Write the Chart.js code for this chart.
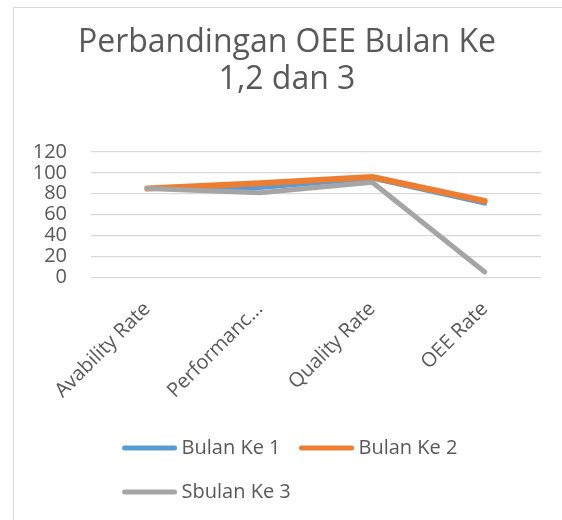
<!DOCTYPE html>
<html>
<head>
<meta charset="utf-8">
<script src="https://cdn.jsdelivr.net/npm/chart.js@4.4.1/dist/chart.umd.min.js"></script>
<style>
  html, body { margin: 0; padding: 0; background: #ffffff; }
  #frame { position: absolute; left: 13px; top: 7px; width: 560px; height: 520px;
           border-left: 1px solid #d9d9d9; border-top: 1px solid #d9d9d9; box-sizing: border-box; }
  #wrap { position: absolute; left: 1px; top: 1px; width: 549px; height: 512px; }
</style>
</head>
<body>
<div id="frame"><div id="wrap"><canvas id="c"></canvas></div></div>
<script>
const categories = ['Avability Rate', 'Performanc...', 'Quality Rate', 'OEE Rate'];
const bulan1 = [85, 86, 95, 71];
const bulan2 = [85, 90, 96, 73];
const bulan3 = [85, 81, 91, 5];
const seriesNames = ['Bulan Ke 1', 'Bulan Ke 2', 'Sbulan Ke 3'];
const yTicks = [0, 20, 40, 60, 80, 100, 120];

const FONT = '"Open Sans", Lato, sans-serif';
const TXT = '#595959';

const legendPlugin = {
  id: 'excelLegend',
  afterDraw(chart) {
    const ctx = chart.ctx;
    const ds = chart.data.datasets;
    ctx.save();
    ctx.font = '20px ' + FONT;
    ctx.textBaseline = 'middle';
    ctx.textAlign = 'left';
    const lineLen = 56, gapT = 4, gapItem = 18;
    const w = ds.map(d => lineLen + gapT + ctx.measureText(d.label).width);
    const rowW = w[0] + gapItem + w[1];
    const x0 = (chart.width - rowW) / 2;
    const rows = [chart.height - 73, chart.height - 29];
    const pos = [[x0, rows[0]], [x0 + w[0] + gapItem, rows[0]], [x0, rows[1]]];
    ds.forEach((d, i) => {
      const [x, y] = pos[i];
      ctx.strokeStyle = d.borderColor;
      ctx.lineWidth = 5;
      ctx.lineCap = 'round';
      ctx.beginPath();
      ctx.moveTo(x + 3, y);
      ctx.lineTo(x + lineLen - 3, y);
      ctx.stroke();
      ctx.fillStyle = TXT;
      ctx.fillText(d.label, x + lineLen + gapT, y);
    });
    ctx.restore();
  }
};

new Chart(document.getElementById('c'), {
  type: 'line',
  data: {
    labels: categories,
    datasets: [
      { label: seriesNames[0], data: bulan1, borderColor: '#5B9BD5', backgroundColor: '#5B9BD5', borderWidth: 5, order: 3 },
      { label: seriesNames[1], data: bulan2, borderColor: '#ED7D31', backgroundColor: '#ED7D31', borderWidth: 6, order: 2 },
      { label: seriesNames[2], data: bulan3, borderColor: '#A5A5A5', backgroundColor: '#A5A5A5', borderWidth: 5, order: 1 }
    ]
  },
  options: {
    responsive: true,
    maintainAspectRatio: false,
    animation: false,
    elements: {
      line: { tension: 0, borderCapStyle: 'round', borderJoinStyle: 'round', fill: false },
      point: { radius: 0, hoverRadius: 0 }
    },
    layout: { padding: { left: 18, right: 23, top: 0, bottom: 106 } },
    plugins: {
      legend: { display: false },
      tooltip: { enabled: false },
      title: {
        display: true,
        text: ['Perbandingan OEE Bulan Ke', '1,2 dan 3'],
        color: TXT,
        font: { family: FONT, size: 32, weight: 'normal', lineHeight: 1.14 },
        padding: { top: 16, bottom: 54 }
      }
    },
    scales: {
      x: {
        offset: true,
        grid: { display: false },
        border: { display: false },
        ticks: { color: TXT, font: { family: FONT, size: 20 }, minRotation: 45, maxRotation: 45, padding: 12, autoSkip: false }
      },
      y: {
        min: 0, max: 120,
        afterBuildTicks(scale) { scale.ticks = yTicks.map(v => ({ value: v })); },
        afterFit(scale) { scale.width = 58; },
        grid: { color: '#d9d9d9', lineWidth: 1.3, drawTicks: false },
        border: { display: false },
        ticks: { color: TXT, font: { family: FONT, size: 20 }, padding: 24, autoSkip: false }
      }
    }
  },
  plugins: [legendPlugin]
});
</script>
</body>
</html>
